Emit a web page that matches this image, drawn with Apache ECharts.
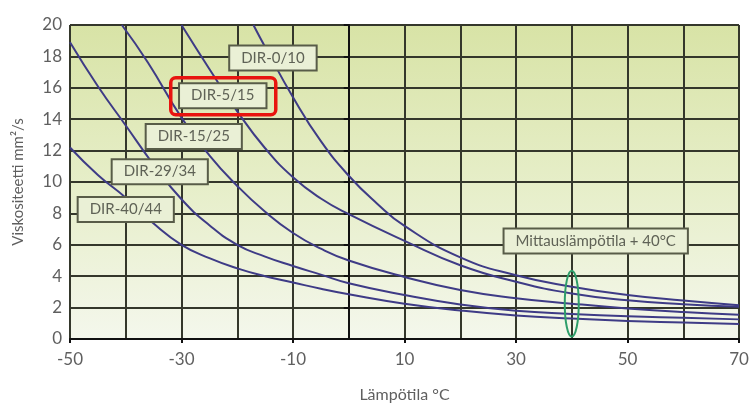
<!DOCTYPE html>
<html>
<head>
<meta charset="utf-8">
<script src="https://cdn.jsdelivr.net/npm/echarts@6/dist/echarts.min.js"></script>
<style>
html,body{margin:0;padding:0;background:#fff;}
#c{width:753px;height:408px;}
</style>
</head>
<body>
<div id="c"></div>
<script>
// ---- data ----
const seriesNames = ['DIR-40/44', 'DIR-29/34', 'DIR-15/25', 'DIR-5/15', 'DIR-0/10'];
const tempA = [-50,-45,-40,-35,-30,-25,-20,-15,-10,-5,0,10,20,30,40,50,60,70];
const viscA = [12.2,10.45,9.0,7.35,6.0,5.15,4.5,4.0,3.6,3.2,2.85,2.25,1.82,1.5,1.3,1.15,1.05,0.95];
const tempB = [-50,-45,-40,-35,-30,-25,-20,-15,-10,-5,0,10,20,30,40,50,60,70];
const viscB = [18.9,16.1,13.6,11.1,8.9,7.25,6.0,5.25,4.65,4.1,3.55,2.8,2.2,1.8,1.6,1.45,1.35,1.25];
const tempC = [-40.7,-36,-30,-25,-20,-15,-10,-5,0,10,20,30,40,50,60,70];
const viscC = [20,17.6,14.1,11.7,9.75,8.1,6.75,5.75,5.0,3.95,3.12,2.6,2.25,1.95,1.72,1.55];
const tempD = [-30,-25,-20,-15,-10,-5,0,10,20,30,40,50,60,70];
const viscD = [20,17.2,14.5,12.15,10.3,8.95,7.95,6.25,4.7,3.65,2.9,2.47,2.22,2.05];
const tempE = [-17.1,-15,-10,-5,0,5,10,20,30,40,50,60,70];
const viscE = [20,18.6,15.4,12.6,10.4,8.65,7.2,5.2,4.06,3.33,2.8,2.45,2.15];

const xTicks = [-50,-30,-10,10,30,50,70];
const yTicks = [0,2,4,6,8,10,12,14,16,18,20];

// label anchor positions (data coordinates)
const labelTexts = ['DIR-0/10','DIR-5/15','DIR-15/25','DIR-29/34','DIR-40/44','Mittauslämpötila + 40°C'];
const labelX = [-13.6,-22.6,-27.8,-33.9,-40.0,44.3];
const labelY = [17.9,15.5,12.9,10.66,8.25,6.25];
const highlightIndex = 1;
const measureTemp = 40;
const measureVisc = 2.25;

const temps = [tempA,tempB,tempC,tempD,tempE];
const viscs = [viscA,viscB,viscC,viscD,viscE];

const chart = echarts.init(document.getElementById('c'), null, {renderer:'canvas'});
const FONT = 'Lato, "Open Sans", sans-serif';
const lineSeries = seriesNames.map((n,i)=>({
  name:n, type:'line', smooth:0.5, symbol:'none', clip:true,
  data: temps[i].map((t,k)=>[t, viscs[i][k]]),
  lineStyle:{color:'#3e3b86', width:2},
  z:3
}));

chart.setOption({
  animation:false,
  grid:{left:70, right:14, top:25, bottom:63, show:true, borderWidth:0,
    backgroundColor:{type:'linear',x:0,y:0,x2:0,y2:1,colorStops:[
      {offset:0,color:'#d8e3a6'},{offset:0.5,color:'#e6eec8'},{offset:1,color:'#f4f7ec'}]}},
  xAxis:{type:'value', min:-50, max:70, interval:20,
    name:'Lämpötila °C', nameLocation:'middle', nameGap:48,
    nameTextStyle:{fontFamily:FONT, fontSize:16, color:'#5f5f5f'},
    axisLine:{show:true, onZero:false, lineStyle:{color:'#111', width:2}},
    axisTick:{show:true, length:4, lineStyle:{color:'#111', width:2}},
    axisLabel:{fontFamily:FONT, fontSize:17, color:'#5f5f5f', margin:12,
      formatter:v=> xTicks.includes(v) ? String(v) : ''},
    splitLine:{show:true, lineStyle:{color:'#34372b', width:2}},
    minorTick:{show:false, splitNumber:2},
    minorSplitLine:{show:true, lineStyle:{color:'#34372b', width:2}}
  },
  yAxis:{type:'value', min:0, max:20, interval:2,
    name:'Viskositeetti mm²/s', nameLocation:'middle', nameGap:44, nameRotate:90,
    nameTextStyle:{fontFamily:FONT, fontSize:15, color:'#5f5f5f'},
    axisLine:{show:true, lineStyle:{color:'#111', width:2}},
    axisTick:{show:true, length:5, lineStyle:{color:'#111', width:2}},
    axisLabel:{fontFamily:FONT, fontSize:17, color:'#5f5f5f', margin:8,
      formatter:v=> yTicks.includes(v) ? String(v) : ''},
    splitLine:{show:true, lineStyle:{color:'#34372b', width:2}}
  },
  series:lineSeries
});

// label boxes and decorations, anchored through the chart's own scales
const graphics = labelTexts.map((t,i)=>{
  const p = chart.convertToPixel({gridIndex:0}, [labelX[i], labelY[i]]);
  return {type:'text', z:20, x:p[0], y:p[1],
    style:{text:t, fontFamily:FONT, fontSize:15, fill:'#5f6256',
      align:'center', verticalAlign:'middle',
      backgroundColor:'#eaf0d6', borderColor:'#585c48', borderWidth:2,
      padding:[4,11,4,11]}};
});
const hp = chart.convertToPixel({gridIndex:0}, [labelX[highlightIndex], labelY[highlightIndex]]);
const ep = chart.convertToPixel({gridIndex:0}, [measureTemp, measureVisc]);
graphics.push(
  {type:'rect', z:30, shape:{x:hp[0]-52, y:hp[1]-18, width:105, height:37, r:5},
    style:{fill:'none', stroke:'#e8140f', lineWidth:3.5}},
  {type:'ellipse', z:30, shape:{cx:ep[0], cy:ep[1], rx:7, ry:33},
    style:{fill:'none', stroke:'#2e9e6a', lineWidth:2}}
);
chart.setOption({graphic:graphics});
</script>
</body>
</html>
